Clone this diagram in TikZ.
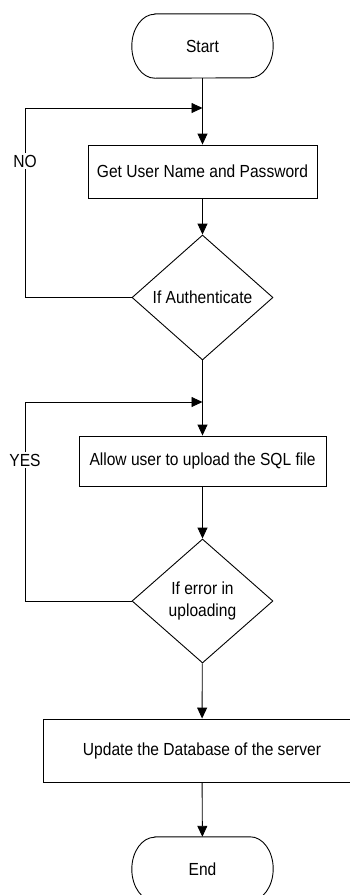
\documentclass[tikz,border=0pt]{standalone}
\usepackage{fontspec}
\setmainfont{Liberation Sans}[FakeStretch=0.89]
\usetikzlibrary{shapes.geometric,arrows.meta}
\begin{document}
\begin{tikzpicture}[x=1pt,y=-1pt,
  every node/.style={font=\fontsize{17.5}{21.5}\selectfont},
  line/.style={line width=0.9pt},
  flow/.style={line width=0.9pt,-{Triangle[length=11pt,width=10pt]}},
  procbox/.style={draw,line width=0.9pt,rectangle,inner sep=0pt},
  decision/.style={draw,line width=0.9pt,diamond,inner sep=0pt,align=center,
    minimum width=141pt,minimum height=125pt},
  terminal/.style={inner sep=0pt,minimum width=141pt,minimum height=64pt},
  loopnote/.style={fill=white,inner sep=1.5pt}]
\useasboundingbox (0,0) rectangle (350,895);
\clip (0,0) rectangle (350,895);

% steps
\node[terminal] (start) at (202.5,46) {Start};
\node[procbox,minimum width=229pt,minimum height=53pt] (get) at (202.5,171.5) {Get User Name and Password};
\node[decision] (auth) at (202.5,297.5) {If Authenticate};
\node[procbox,minimum width=247pt,minimum height=50pt] (allow) at (202.5,461) {Allow user to upload the SQL file};
\node[decision,minimum height=124pt] (err) at (202.5,601) {If error in\\uploading};
\node[procbox,minimum width=318pt,minimum height=63pt] (update) at (202,750.5) {Update the Database of the server};
\node[terminal] (finish) at (202.5,869) {End};

% rounded terminal outlines
\foreach \t in {start,finish}
  \draw[line] ([xshift=23pt]\t.north west) -- ([xshift=-23pt]\t.north east)
    arc[start angle=90,end angle=-90,x radius=23pt,y radius=32pt]
    -- ([xshift=23pt]\t.south west)
    arc[start angle=270,end angle=90,x radius=23pt,y radius=32pt] -- cycle;

% main flow
\draw[flow] (start) -- (get);
\draw[flow] (get) -- (auth);
\draw[flow] (auth) -- (allow);
\draw[flow] (allow) -- (err);
\draw[flow] (err) -- (update);
\draw[flow] (update) -- (finish);

% retry loops
\coordinate (noTop) at (25,108);
\coordinate (noJoin) at (202.5,108);
\coordinate (yesTop) at (25,402);
\coordinate (yesJoin) at (202.5,402);
\draw[flow] (auth.west) -| (noTop) -- (noJoin);
\draw[flow] (err.west) -| (yesTop) -- (yesJoin);
\node[loopnote] (no) at (25,161) {NO};
\node[loopnote] (yes) at (25,460) {YES};
\end{tikzpicture}
\end{document}
